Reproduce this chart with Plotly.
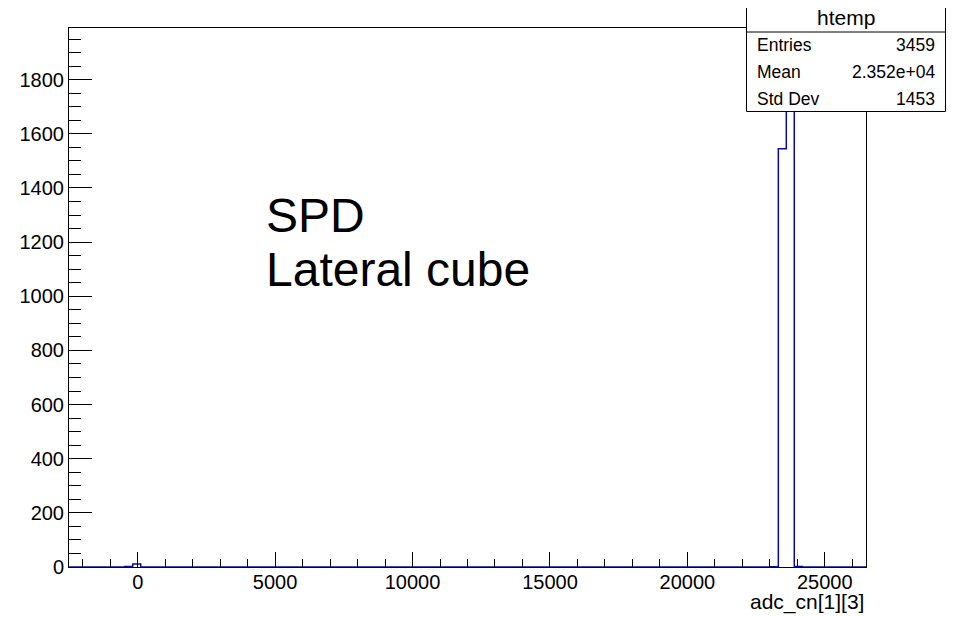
import plotly.graph_objects as go

# ---- data ----
x_min = -2500
x_max = 26500
n_bins = 100
nonzero_bins = [7, 8, 88, 89, 90, 91]
nonzero_counts = [2, 11, 1, 1545, 1898, 2]

stats_title = "htemp"
stats_labels = ["Entries", "Mean", "Std Dev"]
stats_values = ["3459", "2.352e+04", "1453"]

x_title = "adc_cn[1][3]"
text_lines = ["SPD", "Lateral cube"]

# ---- build histogram outline ----
bw = (x_max - x_min) / n_bins
counts = [0] * n_bins
for b, c in zip(nonzero_bins, nonzero_counts):
    counts[b] = c
edges = [x_min + i * bw for i in range(n_bins + 1)]
xs = [edges[0]] + edges
ys = [0] + counts + [0]

FONT = "Liberation Sans, Arial, Helvetica, sans-serif"
OFF = 8  # page body margin
W, H = 954 - OFF, 617 - OFF
# target plot-area edges in window pixels
L, R, T, B = 69, 866, 28, 567


def px_x(px):
    return (px - L) / (R - L)


def px_y(py):
    return (B - py) / (B - T)


fig = go.Figure()
fig.add_trace(go.Scatter(
    x=xs, y=ys, mode="lines", line_shape="hv",
    line=dict(color="#0a0aa0", width=1.5), hoverinfo="skip", showlegend=False,
))

fig.update_layout(
    width=W, height=H,
    margin=dict(l=L - OFF, r=954 - R, t=T - OFF, b=617 - B, pad=0),
    paper_bgcolor="white", plot_bgcolor="white",
    font=dict(family=FONT, size=20, color="black"),
    showlegend=False,
)
fig.update_xaxes(
    range=[x_min, x_max], tick0=0, dtick=5000, tickformat="d", ticks="inside", ticklen=15,
    tickwidth=1, tickcolor="black", showline=True, linecolor="black", linewidth=1,
    mirror=True, showgrid=False, zeroline=False, tickfont=dict(size=20),
    ticklabelstandoff=-3,
    minor=dict(dtick=1000, tick0=0, ticks="inside", ticklen=8, tickcolor="black", tickwidth=1),
)
fig.update_yaxes(
    range=[0, 1991], tick0=0, dtick=200, tickformat="d", ticks="inside", ticklen=23,
    tickwidth=1, tickcolor="black", showline=True, linecolor="black", linewidth=1,
    mirror=True, showgrid=False, zeroline=False, tickfont=dict(size=20),
    minor=dict(dtick=50, tick0=0, ticks="inside", ticklen=12, tickcolor="black", tickwidth=1),
)

annotations = []
# axis title
annotations.append(dict(
    text=x_title, xref="paper", yref="paper", x=1.0, y=px_y(602),
    xanchor="right", yanchor="middle", showarrow=False, font=dict(size=21),
))
# free text
for t, base in zip(text_lines, [233, 286]):
    annotations.append(dict(
        text=t, xref="paper", yref="paper", x=px_x(264), y=px_y(base - 17),
        xanchor="left", yanchor="middle", showarrow=False, font=dict(size=48),
    ))

# stats box
box_l, box_r, box_t, box_b, box_h = 746.5, 945.5, 3.5, 111.5, 32
shapes = [
    dict(type="rect", xref="paper", yref="paper",
         x0=px_x(box_l), x1=px_x(box_r), y0=px_y(box_b), y1=px_y(box_t),
         line=dict(color="black", width=1), fillcolor="white", layer="above"),
    dict(type="line", xref="paper", yref="paper",
         x0=px_x(box_l), x1=px_x(box_r), y0=px_y(box_h), y1=px_y(box_h),
         line=dict(color="black", width=1), layer="above"),
]
annotations.append(dict(
    text=stats_title, xref="paper", yref="paper", x=px_x((box_l + box_r) / 2), y=px_y(18),
    xanchor="center", yanchor="middle", showarrow=False, font=dict(size=21),
))
for lab, val, yy in zip(stats_labels, stats_values, [45, 72, 99]):
    annotations.append(dict(
        text=lab, xref="paper", yref="paper", x=px_x(755), y=px_y(yy),
        xanchor="left", yanchor="middle", showarrow=False, font=dict(size=17.5),
    ))
    annotations.append(dict(
        text=val, xref="paper", yref="paper", x=px_x(937), y=px_y(yy),
        xanchor="right", yanchor="middle", showarrow=False, font=dict(size=17.5),
    ))

fig.update_layout(shapes=shapes, annotations=annotations)
fig.write_html("out.html")
